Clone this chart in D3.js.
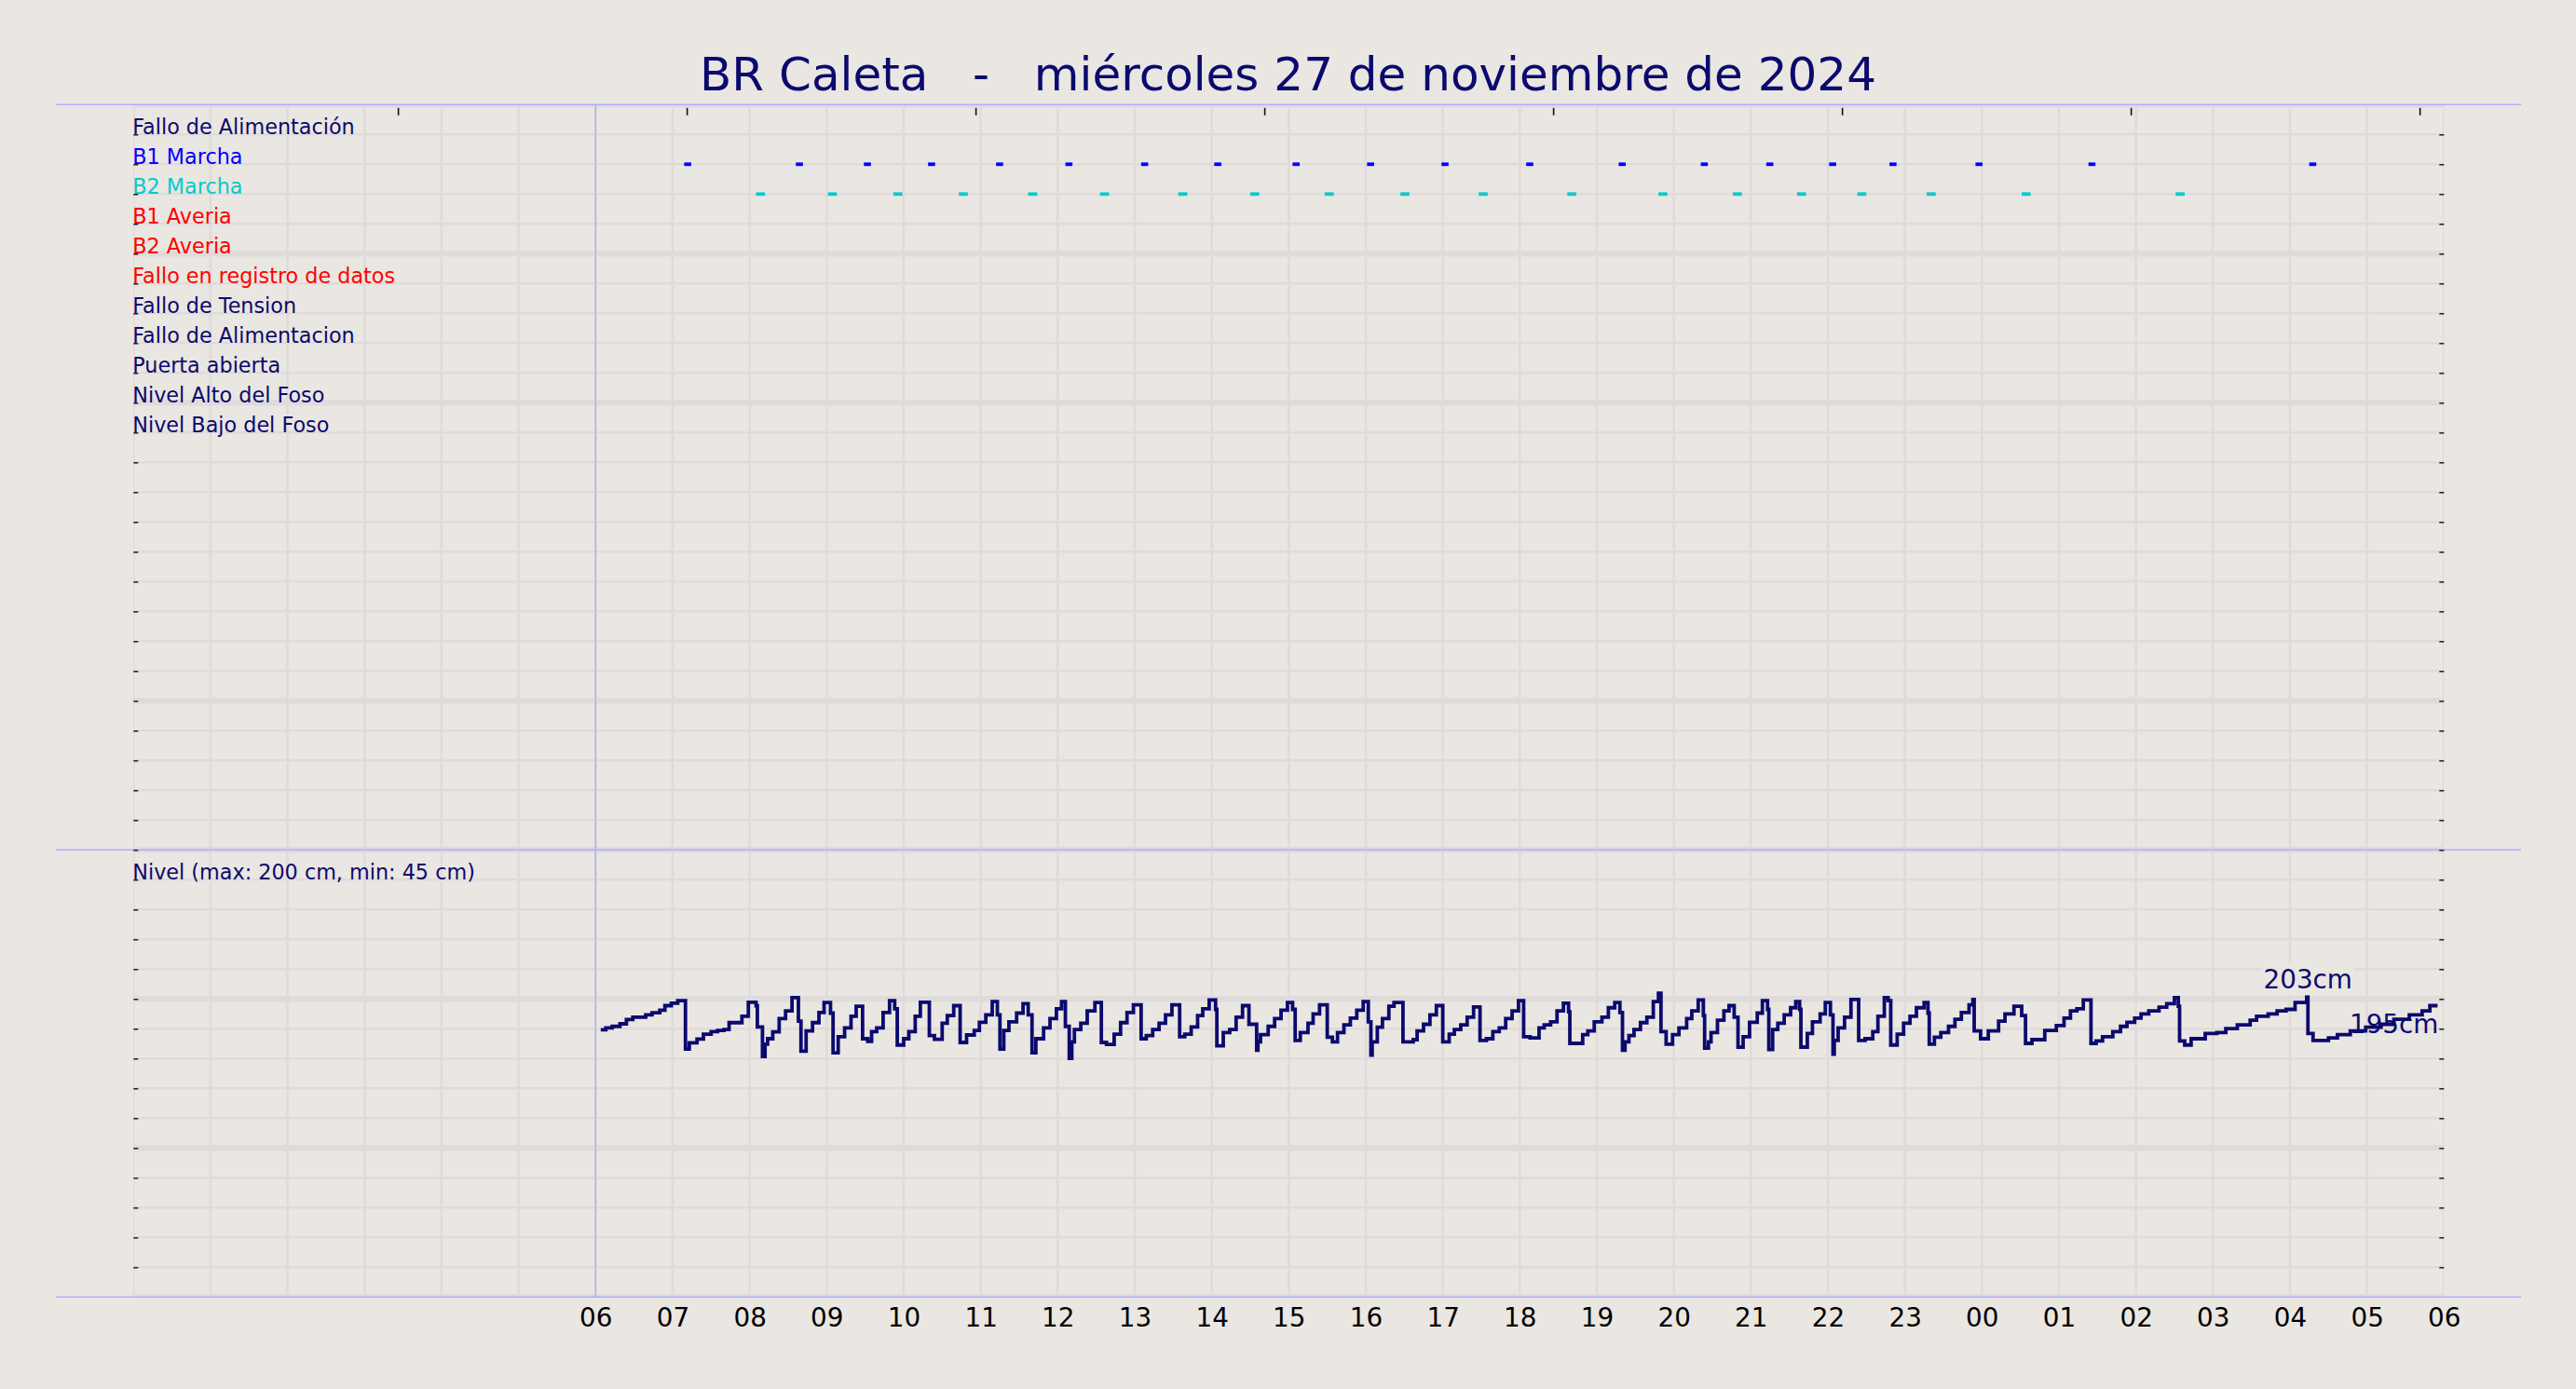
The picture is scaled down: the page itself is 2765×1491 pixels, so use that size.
<!DOCTYPE html>
<html><head><meta charset="utf-8">
<script src="https://cdn.jsdelivr.net/npm/d3@7"></script>
<style>
html,body{margin:0;padding:0;background:#EAE6E1;}
svg{display:block;}
text{font-family:"DejaVu Sans",sans-serif;}
</style></head>
<body><svg id="chart" width="2765" height="1491"></svg>
<script>
// ---------------- data ----------------
const chartTitle = "BR Caleta   -   miércoles 27 de noviembre de 2024";
const signalLabels = ["Fallo de Alimentación","B1 Marcha","B2 Marcha","B1 Averia","B2 Averia",
  "Fallo en registro de datos","Fallo de Tension","Fallo de Alimentacion","Puerta abierta",
  "Nivel Alto del Foso","Nivel Bajo del Foso"];
const signalColors = ["#0A0A6E","#0000FF","#00CCCC","#FF0000","#FF0000","#FF0000",
  "#0A0A6E","#0A0A6E","#0A0A6E","#0A0A6E","#0A0A6E"];
const levelLabel = "Nivel (max: 200 cm, min: 45 cm)";
const hourTickLabels = ["06","07","08","09","10","11","12","13","14","15","16","17","18",
  "19","20","21","22","23","00","01","02","03","04","05","06"];
const topTickTimes = ["03:26","07:11","10:56","14:41","18:26","22:11","01:56","05:41"];
// pump runs (start time), durations in minutes
const b1RunStarts = ["07:09","08:36","09:29","10:19","11:12","12:06","13:05","14:02","15:03","16:01",
  "16:59","18:05","19:17","20:21","21:12","22:01","22:48","23:55","01:23","04:15"];
const b1RunMinutes = 5.5;
const b2RunStarts = ["08:05","09:01","09:52","10:43","11:37","12:33","13:34","14:30","15:28","16:27",
  "17:28","18:37","19:48","20:46","21:36","22:23","23:17","00:31","02:31"];
const b2RunMinutes = 7;
// level readings [time, cm]
const levelReadings = [
["06:04",179.3],["06:08",180.6],["06:13",181.6],["06:19",183.3],["06:24",186.2],["06:29",187.8],
["06:39",189.3],["06:44",190.7],["06:50",192.4],["06:54",195.5],["06:59",197.2],["07:04",198.8],
["07:10",166.4],["07:13",170.6],["07:19",173.1],["07:24",176.4],["07:30",178.1],["07:35",178.9],
["07:40",179.5],["07:44",184.1],["07:54",188.4],["07:59",197.8],["08:05",195.5],["08:06",181.2],
["08:10",161.4],["08:12",169.7],["08:14",173.3],["08:18",177.9],["08:23",186.8],["08:28",192.0],
["08:33",200.9],["08:38",185.1],["08:40",165.0],["08:44",178.5],["08:49",184.1],["08:54",190.9],
["08:58",197.6],["09:03",190.5],["09:05",163.9],["09:09",174.7],["09:14",180.6],["09:19",188.4],
["09:23",195.1],["09:28",173.3],["09:32",171.6],["09:35",178.1],["09:39",180.6],["09:44",190.9],
["09:49",198.8],["09:53",193.4],["09:55",169.1],["10:00",173.3],["10:04",178.1],["10:09",188.4],
["10:13",197.8],["10:20",175.4],["10:24",172.9],["10:30",183.7],["10:34",188.9],["10:39",195.5],
["10:44",170.8],["10:49",175.8],["10:55",178.9],["10:59",184.3],["11:04",189.3],["11:09",198.2],
["11:13",189.3],["11:15",166.4],["11:18",178.9],["11:22",184.7],["11:28",190.5],["11:33",196.8],
["11:37",189.3],["11:40",163.9],["11:43",173.3],["11:49",180.6],["11:54",186.8],["11:59",193.4],
["12:03",198.2],["12:06",181.6],["12:09",160.2],["12:11",171.2],["12:13",179.5],["12:18",183.7],
["12:23",192.0],["12:29",197.6],["12:34",170.8],["12:38",169.5],["12:44",176.4],["12:49",184.1],
["12:54",190.9],["12:59",196.1],["13:05",173.3],["13:09",175.4],["13:14",179.5],["13:19",183.7],
["13:24",189.3],["13:29",196.1],["13:35",174.7],["13:39",176.4],["13:44",181.2],["13:49",188.9],
["13:53",193.4],["13:58",199.3],["14:03",193.0],["14:04",168.5],["14:09",177.4],["14:14",179.5],
["14:19",187.8],["14:24",195.5],["14:29",183.0],["14:35",165.6],["14:36",171.2],["14:38",176.0],
["14:44",181.6],["14:49",186.8],["14:54",192.4],["14:59",197.6],["15:03",193.0],["15:05",172.2],
["15:09",177.4],["15:15",183.7],["15:19",189.9],["15:24",196.1],["15:30",174.3],["15:34",171.2],
["15:38",177.4],["15:43",182.6],["15:48",187.2],["15:53",192.4],["15:58",198.2],["16:02",184.7],
["16:04",162.3],["16:05",171.2],["16:09",181.0],["16:13",186.8],["16:18",195.1],["16:22",197.6],
["16:29",171.2],["16:37",172.7],["16:40",178.5],["16:45",183.0],["16:50",189.3],["16:55",195.5],
["17:00",171.2],["17:05",176.4],["17:09",179.5],["17:14",182.6],["17:19",187.8],["17:24",194.7],
["17:29",172.2],["17:34",173.3],["17:39",178.1],["17:44",180.6],["17:49",186.8],["17:54",192.0],
["17:59",198.8],["18:03",174.7],["18:08",173.9],["18:15",180.6],["18:19",182.6],["18:24",184.7],
["18:29",192.0],["18:34",197.2],["18:38",191.4],["18:39",170.2],["18:49",176.0],["18:53",178.5],
["18:58",184.7],["19:04",187.8],["19:09",194.1],["19:14",197.6],["19:18",190.9],["19:20",165.6],
["19:22",171.2],["19:25",175.4],["19:29",179.5],["19:34",184.1],["19:39",187.8],["19:44",198.2],
["19:48",203.8],["19:50",178.1],["19:54",169.7],["19:59",176.0],["20:04",180.6],["20:10",186.8],
["20:14",192.0],["20:19",199.3],["20:23",188.9],["20:24",167.0],["20:27",171.2],["20:29",177.4],
["20:34",185.7],["20:39",192.0],["20:43",195.5],["20:47",187.8],["20:50",167.7],["20:54",174.7],
["20:59",184.3],["21:05",190.5],["21:09",198.8],["21:13",193.0],["21:14",166.0],["21:17",179.5],
["21:21",183.7],["21:26",189.3],["21:31",194.1],["21:35",198.2],["21:38",193.0],["21:39",167.7],
["21:44",176.8],["21:48",184.7],["21:54",189.9],["21:58",197.6],["22:02",189.3],["22:04",162.9],
["22:05",172.2],["22:08",180.6],["22:13",187.8],["22:18",199.7],["22:24",172.2],["22:29",173.3],
["22:35",178.1],["22:39",188.4],["22:44",200.9],["22:47",198.8],["22:49",169.1],["22:54",176.4],
["22:59",183.7],["23:04",188.4],["23:09",194.1],["23:15",197.6],["23:18",190.5],["23:19",169.7],
["23:23",174.3],["23:28",177.4],["23:34",181.6],["23:39",186.4],["23:44",190.9],["23:50",196.1],
["23:53",199.7],["23:54",178.5],["23:59",173.3],["00:05",178.5],["00:13",185.1],["00:18",189.9],
["00:25",195.1],["00:31",188.9],["00:34",170.2],["00:39",172.7],["00:49",178.9],["00:58",182.2],
["01:04",187.2],["01:09",192.0],["01:14",193.4],["01:19",199.3],["01:25",170.2],["01:29",171.8],
["01:34",174.7],["01:42",178.1],["01:48",181.6],["01:53",184.3],["01:59",187.2],["02:04",189.9],
["02:10",192.0],["02:18",194.5],["02:24",196.8],["02:30",200.9],["02:33",195.1],["02:34",171.8],
["02:38",169.1],["02:43",173.3],["02:54",176.8],["03:03",177.4],["03:10",180.1],["03:19",182.6],
["03:29",185.7],["03:34",188.4],["03:43",189.9],["03:50",192.0],["03:57",193.0],["04:04",197.6],
["04:13",201.3],["04:14",176.8],["04:18",172.2],["04:30",173.9],["04:37",176.0],["04:47",178.5],
["04:59",181.0],["05:11",183.0],["05:21",186.4],["05:33",189.3],["05:43",192.0],["05:49",195.5],
["05:55",195.5]];
const peakNote = {label:"203cm", time:"2024-11-28 04:14"};
const lastNote = {label:"195cm"};

// ---------------- helpers ----------------
function toDates(times){
  let day = 27, prev = -1;
  return times.map(s => {
    const [h,m] = s.split(":").map(Number);
    const mins = h*60+m;
    if (mins < prev) day++;
    prev = mins;
    return new Date(2024,10,day,h,m);
  });
}
const navy = "#0A0A6E", bg = "#EAE6E1", gridC = "#E0DBDB", lav = "#ADADFF";

const svg = d3.select("#chart");
const t0 = new Date(2024,10,27,0,0), t1 = new Date(2024,10,28,6,0);
const x = d3.scaleTime().domain([t0,t1]).range([143.3,2623.3]);
const row = d3.scaleLinear().domain([0,40]).range([1392.3,112.3]);
const yLevel = d3.scaleLinear().domain([0,300]).range([row(0),row(15)]);

svg.append("rect").attr("width",2765).attr("height",1491).attr("fill",bg);

// clip for grid
svg.append("defs").append("clipPath").attr("id","plotclip").append("rect")
  .attr("x",x(t0)).attr("y",row(40)).attr("width",x(t1)-x(t0)).attr("height",row(0)-row(40));

const grid = svg.append("g").attr("clip-path","url(#plotclip)");
const hours = d3.timeHour.range(t0, d3.timeMinute.offset(t1,1));
grid.selectAll("line.v").data(hours).join("line")
  .attr("x1",d=>x(d)).attr("x2",d=>x(d)).attr("y1",row(40)).attr("y2",row(0))
  .attr("stroke",gridC).attr("stroke-width",2.6);
grid.selectAll("line.h").data(d3.range(0,41)).join("line")
  .attr("x1",x(t0)).attr("x2",x(t1)).attr("y1",d=>row(d)).attr("y2",d=>row(d))
  .attr("stroke",gridC)
  .attr("stroke-width",d=> (d%5===0 && d!==25) ? 6.5 : 2.6);

// frame lines
const frame = svg.append("g");
[40,15,0].forEach(r => frame.append("line").attr("x1",60).attr("x2",2706)
  .attr("y1",row(r)).attr("y2",row(r)).attr("stroke",lav).attr("stroke-width",1.6));
const t6 = new Date(2024,10,27,6,0);
frame.append("line").attr("x1",x(t6)).attr("x2",x(t6)).attr("y1",row(40)).attr("y2",row(0))
  .attr("stroke",lav).attr("stroke-width",1.4);

// row ticks (inward)
const rowTicks = d3.range(1,40);
const la = svg.append("g").attr("transform",`translate(${x(t0)},0)`)
  .call(d3.axisLeft(row).tickValues(rowTicks).tickSize(-5).tickFormat(""));
const ra = svg.append("g").attr("transform",`translate(${x(t1)},0)`)
  .call(d3.axisRight(row).tickValues(rowTicks).tickSize(-5).tickFormat(""));
[la,ra].forEach(g => { g.select(".domain").remove(); g.selectAll("line").attr("stroke","#111").attr("stroke-width",1.4); });

// top ticks
const ta = svg.append("g").attr("transform",`translate(0,${row(40)+3.5})`)
  .call(d3.axisTop(x).tickValues(toDates(topTickTimes)).tickSize(-8).tickFormat(""));
ta.select(".domain").remove();
ta.selectAll("line").attr("stroke","#111").attr("stroke-width",1.6);

// bottom hour labels
const labelHours = hourTickLabels.map((_,i)=>d3.timeHour.offset(t6,i));
const ba = svg.append("g").attr("transform",`translate(0,${row(0)})`)
  .call(d3.axisBottom(x).tickValues(labelHours).tickSize(0).tickPadding(0)
    .tickFormat((d,i)=>hourTickLabels[i]));
ba.select(".domain").remove();
ba.selectAll("text").attr("dy",null).attr("y",32).attr("fill","#000")
  .style("font-size","27.8px").style("font-family","'DejaVu Sans',sans-serif");

// title
svg.append("text").attr("x",1382.5).attr("y",97).attr("text-anchor","middle")
  .attr("fill",navy).style("font-size","50px").style("white-space","pre")
  .attr("xml:space","preserve").text(chartTitle);

// signal labels
svg.append("g").selectAll("text").data(signalLabels).join("text")
  .attr("x",x(t0)-1).attr("y",(d,i)=>row(39-i)).attr("fill",(d,i)=>signalColors[i])
  .style("font-size","22.3px").text(d=>d);
svg.append("text").attr("x",x(t0)-1).attr("y",row(14)).attr("fill",navy)
  .style("font-size","22.3px").text(levelLabel);

// pump runs
function drawRuns(starts, mins, r, color){
  svg.append("g").selectAll("rect").data(toDates(starts)).join("rect")
    .attr("x",d=>x(d)).attr("width",d=>x(d3.timeSecond.offset(d,mins*60))-x(d))
    .attr("y",row(r)-1.9).attr("height",3.8).attr("fill",color);
}
drawRuns(b1RunStarts,b1RunMinutes,38,"#0000FF");
drawRuns(b2RunStarts,b2RunMinutes,37,"#00CCCC");

// level line
const lvlDates = toDates(levelReadings.map(d=>d[0]));
const lvl = levelReadings.map((d,i)=>({t:lvlDates[i], v:d[1]}));
const line = d3.line().x(d=>x(d.t)).y(d=>yLevel(d.v)).curve(d3.curveStepAfter);
svg.append("path").datum(lvl).attr("d",line).attr("fill","none")
  .attr("stroke",navy).attr("stroke-width",3.8);

// annotations
const pt = d3.timeParse("%Y-%m-%d %H:%M")(peakNote.time);
const bis = d3.bisector(d=>d.t).left;
const pi = bis(lvl, pt) - 1;
const peakY = yLevel(d3.max(lvl.slice(Math.max(0,pi-1), pi+1), d=>d.v));
const pg = svg.append("g");
const ptxt = pg.append("text").attr("x",x(pt)).attr("y",peakY-9).attr("text-anchor","middle")
  .attr("fill",navy).style("font-size","27.8px").text(peakNote.label);
const bb = ptxt.node().getBBox();
pg.insert("rect","text").attr("x",bb.x-2).attr("y",bb.y-1).attr("width",bb.width+4)
  .attr("height",bb.height+1).attr("fill",bg);
const last = lvl[lvl.length-1];
svg.append("text").attr("x",x(last.t)+1).attr("y",yLevel(last.v)+29).attr("text-anchor","end")
  .attr("fill",navy).style("font-size","27.8px").text(lastNote.label);
</script></body></html>
